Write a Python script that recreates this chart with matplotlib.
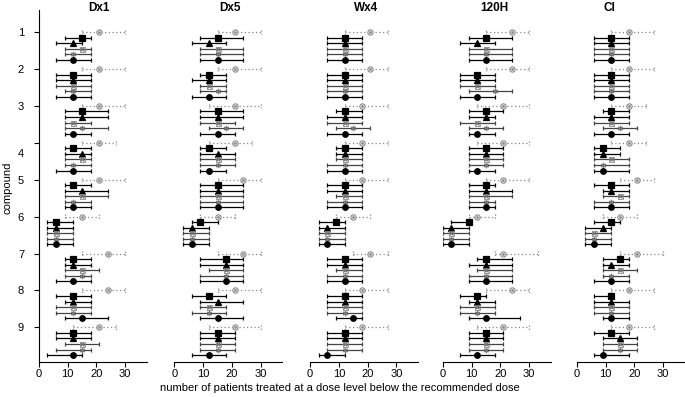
import matplotlib.pyplot as plt
import matplotlib.transforms as mtransforms
import numpy as np

plt.rcParams['font.family'] = ['Liberation Sans', 'DejaVu Sans']

panels = ['Dx1', 'Dx5', 'Wx4', '120H', 'Cl']
compounds = [1, 2, 3, 4, 5, 6, 7, 8, 9]
# columns: reference (dotted), square, triangle, cross, asterisk, circle

dx1_mid = [[21, 15, 12, 15, 12, 12], [21, 12, 12, 12, 12, 12], [21, 15, 15, 12, 15, 12],
           [21, 12, 15, 15, 12, 12], [21, 12, 15, 15, 12, 12], [15, 6, 6, 6, 6, 6],
           [24, 12, 12, 15, 15, 12], [24, 12, 12, 12, 12, 15], [21, 12, 12, 15, 15, 12]]
dx1_lo = [[15, 9, 6, 9, 9, 6], [15, 6, 6, 6, 9, 6], [15, 9, 9, 9, 9, 9],
          [15, 9, 9, 9, 9, 6], [15, 9, 9, 9, 9, 9], [9, 3, 3, 3, 3, 3],
          [15, 9, 9, 9, 9, 6], [15, 6, 9, 6, 6, 9], [12, 6, 6, 9, 6, 3]]
dx1_hi = [[30, 18, 15, 18, 18, 18], [30, 18, 18, 18, 18, 18], [30, 24, 24, 18, 24, 18],
          [27, 18, 18, 18, 18, 18], [30, 18, 24, 24, 18, 18], [21, 12, 12, 12, 12, 12],
          [30, 18, 18, 21, 18, 18], [30, 18, 18, 18, 18, 24], [27, 18, 18, 21, 18, 15]]

dx5_mid = [[21, 15, 12, 15, 15, 15], [21, 12, 12, 12, 15, 12], [21, 15, 15, 15, 18, 15],
           [21, 12, 15, 15, 15, 12], [24, 15, 15, 15, 15, 15], [15, 9, 6, 6, 6, 6],
           [24, 18, 18, 18, 18, 18], [21, 12, 15, 12, 12, 15], [21, 15, 15, 15, 15, 12]]
dx5_lo = [[15, 9, 6, 9, 9, 9], [15, 9, 6, 9, 9, 6], [12, 9, 9, 9, 12, 9],
          [12, 9, 9, 9, 9, 9], [15, 9, 9, 9, 9, 9], [9, 6, 3, 3, 3, 3],
          [15, 9, 9, 12, 9, 9], [15, 6, 9, 9, 6, 9], [12, 9, 9, 9, 9, 6]]
dx5_hi = [[30, 24, 18, 24, 24, 24], [30, 18, 18, 18, 18, 18], [30, 24, 24, 21, 24, 21],
          [27, 18, 21, 21, 21, 18], [30, 24, 24, 24, 24, 24], [21, 15, 12, 12, 12, 12],
          [30, 24, 24, 24, 24, 24], [30, 18, 24, 18, 18, 24], [30, 21, 21, 21, 21, 18]]

wx4_mid = [[21, 12, 12, 12, 12, 12], [21, 12, 12, 12, 12, 12], [18, 12, 12, 12, 15, 12],
           [18, 12, 12, 12, 12, 12], [18, 12, 12, 12, 12, 12], [15, 9, 6, 6, 6, 6],
           [21, 12, 12, 12, 12, 12], [18, 12, 12, 12, 12, 15], [18, 12, 12, 12, 12, 6]]
wx4_lo = [[12, 6, 6, 6, 6, 6], [12, 6, 6, 6, 6, 6], [12, 9, 6, 6, 9, 6],
          [12, 9, 9, 9, 6, 6], [12, 6, 6, 9, 6, 6], [9, 3, 3, 3, 3, 3],
          [15, 6, 6, 9, 6, 6], [12, 6, 6, 6, 6, 9], [12, 6, 6, 6, 6, 3]]
wx4_hi = [[27, 18, 18, 18, 18, 18], [27, 18, 18, 18, 18, 18], [27, 18, 18, 18, 21, 18],
          [27, 18, 18, 18, 18, 18], [27, 18, 18, 18, 18, 18], [21, 12, 12, 12, 12, 12],
          [27, 18, 18, 18, 18, 18], [27, 18, 18, 18, 18, 18], [27, 18, 18, 18, 18, 12]]

h120_mid = [[24, 15, 12, 15, 15, 15], [24, 12, 12, 12, 18, 12], [21, 15, 15, 12, 15, 12],
            [21, 15, 15, 15, 15, 12], [21, 15, 15, 15, 15, 15], [12, 9, 3, 3, 3, 3],
            [21, 15, 15, 15, 15, 15], [24, 12, 12, 12, 12, 15], [21, 15, 15, 15, 15, 12]]
h120_lo = [[15, 9, 6, 9, 9, 9], [15, 6, 6, 6, 9, 6], [12, 9, 9, 6, 9, 9],
           [12, 9, 9, 9, 9, 9], [15, 9, 9, 9, 9, 9], [9, 3, 0, 0, 0, 0],
           [18, 12, 9, 12, 9, 9], [15, 6, 9, 6, 6, 9], [12, 9, 9, 9, 9, 6]]
h120_hi = [[30, 24, 18, 24, 24, 24], [30, 18, 18, 18, 24, 18], [30, 21, 18, 18, 21, 18],
           [30, 21, 21, 21, 21, 18], [30, 18, 24, 24, 18, 18], [18, 9, 9, 9, 9, 9],
           [33, 24, 24, 24, 24, 24], [30, 15, 18, 18, 18, 27], [30, 21, 21, 21, 21, 18]]

cl_mid = [[18, 12, 12, 12, 12, 12], [18, 12, 12, 12, 12, 12], [18, 12, 12, 12, 15, 12],
          [18, 9, 9, 12, 9, 9], [21, 12, 12, 15, 12, 12], [15, 12, 9, 6, 6, 6],
          [21, 15, 12, 15, 12, 12], [18, 12, 12, 12, 12, 12], [18, 12, 15, 15, 15, 9]]
cl_lo = [[12, 6, 6, 6, 6, 6], [12, 6, 6, 6, 6, 6], [12, 9, 6, 6, 9, 6],
         [12, 6, 6, 6, 6, 6], [15, 6, 9, 9, 6, 6], [9, 6, 3, 3, 3, 3],
         [15, 9, 9, 9, 9, 6], [12, 6, 6, 6, 6, 9], [12, 6, 9, 9, 9, 6]]
cl_hi = [[27, 18, 18, 18, 18, 18], [27, 18, 18, 18, 18, 18], [24, 18, 18, 18, 21, 18],
         [24, 15, 15, 18, 18, 18], [27, 18, 18, 18, 18, 18], [21, 15, 12, 12, 12, 12],
         [30, 18, 18, 21, 18, 18], [27, 12, 18, 18, 18, 18], [27, 18, 21, 21, 21, 18]]

data = [(dx1_mid, dx1_lo, dx1_hi), (dx5_mid, dx5_lo, dx5_hi), (wx4_mid, wx4_lo, wx4_hi),
        (h120_mid, h120_lo, h120_hi), (cl_mid, cl_lo, cl_hi)]

title_x = [21, 19.5, 19.5, 18, 11.5]
lefts_px = [38.7, 174.3, 310, 442.7, 576.7]

W, H = 685, 397
fig = plt.figure(figsize=(W / 100, H / 100), dpi=100)

# marker style per row (after the dotted reference row)
styles = [
    dict(marker='s', ms=4.0, mfc='black', mec='black', lc='black'),
    dict(marker='^', ms=4.2, mfc='black', mec='black', lc='black'),
    dict(marker='x', ms=3.2, mfc='#777777', mec='#777777', lc='#444444'),
    dict(marker=(6, 2, 0), ms=3.8, mfc='#777777', mec='#777777', lc='#444444'),
    dict(marker='o', ms=4.0, mfc='black', mec='black', lc='black'),
]
step = 0.15
cap = 0.06

for i, name in enumerate(panels):
    ax = fig.add_axes([lefts_px[i] / W, (H - 361.7) / H, 108 / W, 351.7 / H])
    mid, lo, hi = (np.array(a, dtype=float) for a in data[i])
    y0 = np.array(compounds, dtype=float)

    # reference row, dotted grey
    ax.hlines(y0, lo[:, 0], hi[:, 0], colors='#888888', linestyles=(0, (1, 2)), lw=0.9)
    ax.vlines(lo[:, 0], y0 - cap, y0 + cap, colors='#888888', linestyles=(0, (1, 1.5)), lw=0.9)
    ax.vlines(hi[:, 0], y0 - cap, y0 + cap, colors='#888888', linestyles=(0, (1, 1.5)), lw=0.9)
    ax.plot(mid[:, 0], y0, 'o', ms=3.8, mfc='white', mec='#888888', mew=0.8, zorder=3)
    ax.plot(mid[:, 0], y0, 'o', ms=1.0, color='#888888', zorder=4)

    for k, st in enumerate(styles, start=1):
        yk = y0 + k * step
        ax.errorbar(mid[:, k], yk, xerr=[mid[:, k] - lo[:, k], hi[:, k] - mid[:, k]],
                    fmt='none', ecolor=st['lc'], elinewidth=0.9, capsize=1.7, capthick=0.9)
        ax.plot(mid[:, k], yk, linestyle='none', marker=st['marker'], ms=st['ms'],
                mfc=st['mfc'], mec=st['mec'], mew=0.9, zorder=3)
        if k == 3:
            ax.plot(mid[:, k], yk, linestyle='none', marker='s', ms=3.6, mfc='none',
                    mec='#888888', mew=0.6, zorder=3)

    ax.set_xlim(0, 37.5)
    ax.set_ylim(9.93, 0.4)
    ax.set_xticks([0, 10, 20, 30])
    ax.spines['top'].set_visible(False)
    ax.spines['right'].set_visible(False)
    ax.spines['bottom'].set_linewidth(0.8)
    ax.tick_params(axis='both', direction='out', length=3.5, width=0.8, labelsize=8, pad=2)
    if i == 0:
        ax.spines['left'].set_linewidth(0.8)
        ax.set_yticks(compounds)
        ax.set_yticklabels([str(c) for c in compounds])
        ax.tick_params(axis='y', pad=7)
        # label "4" sits a little below its tick in the original
        lbl = ax.get_yticklabels()[3]
        lbl.set_transform(lbl.get_transform() +
                          mtransforms.ScaledTranslation(0, -7 / 72, fig.dpi_scale_trans))
    else:
        ax.spines['left'].set_visible(False)
        ax.set_yticks([])
    ax.patch.set_alpha(0)
    ax.text(title_x[i], 1.006, name, transform=ax.get_xaxis_transform(),
            ha='center', va='center', fontsize=8.5, fontweight='bold')

fig.text(340 / W, 1 - 388 / H, 'number of patients treated at a dose level below the recommended dose',
         ha='center', va='center', fontsize=8)
fig.text(8 / W, 1 - 188 / H, 'compound', rotation=90, ha='center', va='center', fontsize=8)

fig.savefig('out.png', dpi=100)
